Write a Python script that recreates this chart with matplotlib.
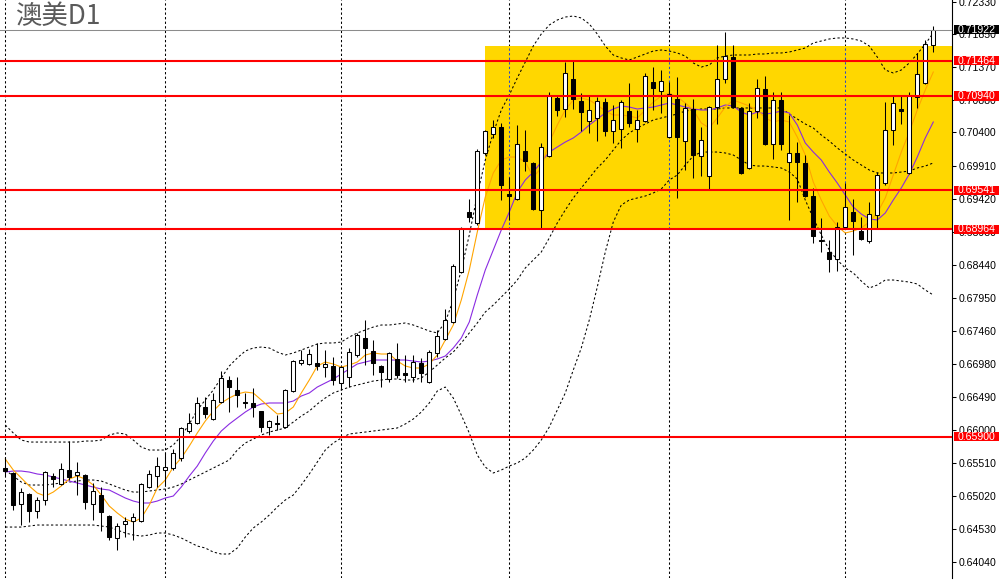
import matplotlib
matplotlib.use("Agg")
import matplotlib.pyplot as plt
from matplotlib.patches import Rectangle
from matplotlib.transforms import blended_transform_factory
import numpy as np

# daily candles (oldest first)
opens = [0.65434, 0.65360, 0.64901, 0.65049, 0.64797, 0.64960, 0.65315, 0.65197, 0.65404, 0.65330,
         0.65330, 0.64901, 0.65034, 0.64723, 0.64398, 0.64605, 0.64649, 0.64649, 0.65152, 0.65315,
         0.65404, 0.65434, 0.65582, 0.65981, 0.66100, 0.66336, 0.66159, 0.66410, 0.66736, 0.66588,
         0.66410, 0.66396, 0.66277, 0.66040, 0.66100, 0.66040, 0.66573, 0.66988, 0.66973, 0.66988,
         0.66928, 0.66943, 0.66692, 0.66780, 0.67106, 0.67358, 0.67165, 0.66943, 0.66751, 0.67047,
         0.66840, 0.66780, 0.66988, 0.66706, 0.67136, 0.67343, 0.67594, 0.68334, 0.69222, 0.69060,
         0.70096, 0.70377, 0.70480, 0.69489, 0.69415, 0.70125, 0.69948, 0.69252, 0.70051, 0.70910,
         0.70747, 0.71191, 0.70865, 0.70569, 0.70614, 0.70850, 0.70421, 0.70451, 0.70717, 0.70451,
         0.70569, 0.71146, 0.71013, 0.70332, 0.70895, 0.70273, 0.70747, 0.70051, 0.69755, 0.70776,
         0.71191, 0.71516, 0.70762, 0.69874, 0.70717, 0.71043, 0.70229, 0.70880, 0.69962, 0.70096,
         0.69948, 0.69459, 0.68808, 0.68630, 0.68527, 0.69000, 0.69222, 0.68941, 0.68793, 0.69178,
         0.69652, 0.70436, 0.70747, 0.69800, 0.70924, 0.71132, 0.71694]
highs = [0.65596, 0.65374, 0.65138, 0.65064, 0.65004, 0.65389, 0.65360, 0.65508, 0.65833, 0.65522,
         0.65345, 0.65212, 0.65152, 0.64738, 0.64620, 0.64708, 0.64768, 0.65212, 0.65404, 0.65596,
         0.65670, 0.65715, 0.66040, 0.66248, 0.66484, 0.66484, 0.66544, 0.66869, 0.66795, 0.66780,
         0.66544, 0.66618, 0.66277, 0.66144, 0.66218, 0.66603, 0.67032, 0.67180, 0.67195, 0.67284,
         0.67180, 0.67076, 0.66943, 0.67210, 0.67432, 0.67624, 0.67328, 0.66958, 0.67150, 0.67284,
         0.67106, 0.67106, 0.67062, 0.67180, 0.67476, 0.67787, 0.68453, 0.69000, 0.69415, 0.70155,
         0.70436, 0.70584, 0.70540, 0.69740, 0.70510, 0.70436, 0.69962, 0.70244, 0.70998, 0.70954,
         0.71442, 0.71457, 0.70984, 0.70939, 0.70924, 0.70910, 0.70806, 0.70880, 0.71132, 0.70732,
         0.71280, 0.71368, 0.71324, 0.71146, 0.71220, 0.70836, 0.70895, 0.70480, 0.70791, 0.71694,
         0.71886, 0.71694, 0.70776, 0.70836, 0.71191, 0.71235, 0.70998, 0.70998, 0.70658, 0.70258,
         0.70066, 0.69578, 0.69134, 0.68808, 0.69074, 0.69652, 0.69415, 0.69148, 0.69370, 0.69814,
         0.70850, 0.70954, 0.70954, 0.70998, 0.71576, 0.71768, 0.71975]
lows = [0.65315, 0.64812, 0.64590, 0.64634, 0.64694, 0.64886, 0.65152, 0.65182, 0.65256, 0.65034,
        0.64827, 0.64664, 0.64501, 0.64368, 0.64220, 0.64412, 0.64368, 0.64634, 0.65138, 0.65152,
        0.65182, 0.65404, 0.65537, 0.65952, 0.66085, 0.66174, 0.66144, 0.66396, 0.66262, 0.66336,
        0.66322, 0.66188, 0.65966, 0.65922, 0.65996, 0.66026, 0.66558, 0.66958, 0.66958, 0.66884,
        0.66780, 0.66662, 0.66603, 0.66632, 0.67076, 0.66958, 0.66810, 0.66632, 0.66706, 0.66766,
        0.66706, 0.66706, 0.66706, 0.66692, 0.67076, 0.67328, 0.67580, 0.68320, 0.69074, 0.69030,
        0.70066, 0.70318, 0.69400, 0.69104, 0.69400, 0.69829, 0.69252, 0.68970, 0.70036, 0.70643,
        0.70628, 0.70747, 0.70421, 0.70392, 0.70273, 0.70347, 0.70244, 0.70170, 0.70480, 0.70258,
        0.70554, 0.70732, 0.70688, 0.70318, 0.69430, 0.69844, 0.69726, 0.69755, 0.69563, 0.70525,
        0.71132, 0.70762, 0.69785, 0.69859, 0.70614, 0.70214, 0.70007, 0.70140, 0.69104, 0.69370,
        0.69444, 0.68764, 0.68630, 0.68334, 0.68349, 0.68986, 0.68586, 0.68808, 0.68764, 0.68986,
        0.69622, 0.70214, 0.70525, 0.69785, 0.70762, 0.71117, 0.71590]
closes = [0.65389, 0.64886, 0.65078, 0.64797, 0.64960, 0.65374, 0.65271, 0.65419, 0.65300, 0.65374,
          0.64930, 0.65093, 0.64782, 0.64412, 0.64575, 0.64649, 0.64708, 0.65197, 0.65345, 0.65463,
          0.65448, 0.65656, 0.66026, 0.66100, 0.66396, 0.66233, 0.66440, 0.66766, 0.66632, 0.66514,
          0.66396, 0.66336, 0.66040, 0.66129, 0.66085, 0.66588, 0.67017, 0.67032, 0.67121, 0.66943,
          0.66973, 0.66736, 0.66928, 0.67150, 0.67402, 0.67210, 0.66988, 0.66854, 0.67136, 0.66810,
          0.66810, 0.67002, 0.66840, 0.67150, 0.67387, 0.67624, 0.68423, 0.68986, 0.69148, 0.70125,
          0.70421, 0.70480, 0.69622, 0.69459, 0.70229, 0.69977, 0.69267, 0.70184, 0.70939, 0.70732,
          0.71280, 0.70895, 0.70702, 0.70732, 0.70865, 0.70421, 0.70584, 0.70850, 0.70540, 0.70584,
          0.71235, 0.71058, 0.71161, 0.70969, 0.70332, 0.70762, 0.70066, 0.70288, 0.70776, 0.71191,
          0.71531, 0.70776, 0.69800, 0.70717, 0.71058, 0.70229, 0.70880, 0.70229, 0.70096, 0.69962,
          0.69459, 0.68867, 0.68793, 0.68527, 0.69000, 0.69296, 0.69089, 0.68823, 0.69193, 0.69770,
          0.70436, 0.70836, 0.70717, 0.70939, 0.71265, 0.71709, 0.71922]

# moving averages (orange = fast, purple = slow)
ma_fast = [0.65567, 0.65404, 0.65286, 0.65167, 0.65064, 0.65019, 0.65078, 0.65167, 0.65271, 0.65315,
           0.65271, 0.65182, 0.65034, 0.64871, 0.64768, 0.64679, 0.64634, 0.64694, 0.64886, 0.65138,
           0.65256, 0.65448, 0.65582, 0.65759, 0.65952, 0.66129, 0.66277, 0.66396, 0.66470, 0.66529,
           0.66558, 0.66544, 0.66440, 0.66336, 0.66233, 0.66248, 0.66336, 0.66544, 0.66736, 0.66943,
           0.67002, 0.66973, 0.66928, 0.66958, 0.67002, 0.67106, 0.67136, 0.67121, 0.67121, 0.67017,
           0.66943, 0.66914, 0.66914, 0.66973, 0.67106, 0.67328, 0.67550, 0.67920, 0.68364, 0.68926,
           0.69444, 0.69800, 0.69992, 0.70036, 0.70036, 0.69962, 0.69740, 0.69874, 0.70258, 0.70510,
           0.70732, 0.70880, 0.70910, 0.70880, 0.70806, 0.70717, 0.70658, 0.70658, 0.70643, 0.70614,
           0.70732, 0.70850, 0.70939, 0.70984, 0.70924, 0.70836, 0.70732, 0.70540, 0.70466, 0.70614,
           0.70776, 0.70880, 0.70836, 0.70791, 0.70732, 0.70614, 0.70554, 0.70584, 0.70554, 0.70332,
           0.70066, 0.69666, 0.69400, 0.69163, 0.69015, 0.68912, 0.68941, 0.68986, 0.69074, 0.69208,
           0.69430, 0.69770, 0.70110, 0.70406, 0.70732, 0.71028, 0.71294]
ma_slow = [0.65374, 0.65389, 0.65389, 0.65374, 0.65345, 0.65330, 0.65300, 0.65271, 0.65241, 0.65212,
           0.65182, 0.65152, 0.65123, 0.65108, 0.65049, 0.64990, 0.64945, 0.64916, 0.64916, 0.64945,
           0.64990, 0.65019, 0.65152, 0.65315, 0.65463, 0.65656, 0.65833, 0.65981, 0.66085, 0.66174,
           0.66262, 0.66336, 0.66381, 0.66396, 0.66396, 0.66396, 0.66425, 0.66499, 0.66544, 0.66632,
           0.66692, 0.66751, 0.66825, 0.66899, 0.66973, 0.67002, 0.67032, 0.67032, 0.67032, 0.67032,
           0.67032, 0.67017, 0.67002, 0.67017, 0.67047, 0.67091, 0.67210, 0.67358, 0.67594, 0.67994,
           0.68364, 0.68660, 0.68956, 0.69222, 0.69518, 0.69696, 0.69814, 0.69962, 0.70110, 0.70184,
           0.70258, 0.70318, 0.70406, 0.70510, 0.70599, 0.70688, 0.70747, 0.70791, 0.70776, 0.70747,
           0.70762, 0.70776, 0.70806, 0.70836, 0.70806, 0.70776, 0.70747, 0.70732, 0.70732, 0.70762,
           0.70806, 0.70791, 0.70702, 0.70658, 0.70702, 0.70673, 0.70688, 0.70717, 0.70688, 0.70510,
           0.70244, 0.70110, 0.69992, 0.69814, 0.69652, 0.69474, 0.69296, 0.69193, 0.69119, 0.69104,
           0.69208, 0.69400, 0.69578, 0.69785, 0.70036, 0.70318, 0.70554]

# bollinger bands
bb_upper = [0.66070, 0.65952, 0.65848, 0.65818, 0.65818, 0.65818, 0.65818, 0.65818, 0.65818, 0.65818,
            0.65833, 0.65833, 0.65848, 0.65922, 0.65952, 0.65937, 0.65848, 0.65744, 0.65700, 0.65700,
            0.65700, 0.65774, 0.65907, 0.66085, 0.66292, 0.66440, 0.66588, 0.66766, 0.66943, 0.67062,
            0.67165, 0.67210, 0.67224, 0.67210, 0.67150, 0.67106, 0.67136, 0.67180, 0.67224, 0.67269,
            0.67284, 0.67284, 0.67298, 0.67372, 0.67432, 0.67476, 0.67520, 0.67550, 0.67550, 0.67565,
            0.67580, 0.67550, 0.67506, 0.67461, 0.67432, 0.67594, 0.67920, 0.68364, 0.68882, 0.69474,
            0.69992, 0.70392, 0.70732, 0.70954, 0.71206, 0.71442, 0.71679, 0.71857, 0.71990, 0.72064,
            0.72108, 0.72123, 0.72094, 0.72005, 0.71857, 0.71679, 0.71546, 0.71502, 0.71472, 0.71516,
            0.71561, 0.71605, 0.71620, 0.71605, 0.71576, 0.71531, 0.71428, 0.71368, 0.71398, 0.71502,
            0.71531, 0.71546, 0.71546, 0.71546, 0.71561, 0.71561, 0.71576, 0.71576, 0.71590, 0.71620,
            0.71650, 0.71724, 0.71753, 0.71783, 0.71798, 0.71798, 0.71783, 0.71753, 0.71679, 0.71516,
            0.71324, 0.71280, 0.71324, 0.71428, 0.71561, 0.71709, 0.71872]
bb_mid = [0.65404, 0.65315, 0.65226, 0.65182, 0.65182, 0.65182, 0.65197, 0.65212, 0.65226, 0.65241,
          0.65256, 0.65256, 0.65241, 0.65197, 0.65152, 0.65108, 0.65078, 0.65078, 0.65093, 0.65108,
          0.65123, 0.65152, 0.65197, 0.65256, 0.65315, 0.65374, 0.65434, 0.65493, 0.65552, 0.65700,
          0.65804, 0.65863, 0.65922, 0.65966, 0.65996, 0.66026, 0.66114, 0.66203, 0.66277, 0.66381,
          0.66470, 0.66544, 0.66588, 0.66632, 0.66662, 0.66692, 0.66721, 0.66736, 0.66751, 0.66751,
          0.66736, 0.66736, 0.66766, 0.66854, 0.66958, 0.67062, 0.67150, 0.67284, 0.67432, 0.67580,
          0.67742, 0.67846, 0.67964, 0.68083, 0.68216, 0.68394, 0.68512, 0.68630, 0.68838, 0.69060,
          0.69252, 0.69430, 0.69578, 0.69726, 0.69874, 0.69992, 0.70140, 0.70288, 0.70392, 0.70466,
          0.70525, 0.70584, 0.70614, 0.70643, 0.70673, 0.70717, 0.70732, 0.70747, 0.70747, 0.70747,
          0.70762, 0.70762, 0.70762, 0.70762, 0.70762, 0.70762, 0.70762, 0.70762, 0.70673, 0.70599,
          0.70525, 0.70466, 0.70362, 0.70273, 0.70170, 0.70081, 0.69992, 0.69918, 0.69844, 0.69800,
          0.69800, 0.69800, 0.69814, 0.69829, 0.69874, 0.69903, 0.69948]
bb_lower = [0.64560, 0.64560, 0.64560, 0.64575, 0.64590, 0.64590, 0.64590, 0.64590, 0.64590, 0.64590,
            0.64590, 0.64590, 0.64575, 0.64560, 0.64516, 0.64472, 0.64442, 0.64427, 0.64442, 0.64472,
            0.64472, 0.64442, 0.64398, 0.64338, 0.64279, 0.64250, 0.64190, 0.64161, 0.64161, 0.64250,
            0.64412, 0.64546, 0.64634, 0.64738, 0.64856, 0.64960, 0.65034, 0.65182, 0.65345, 0.65522,
            0.65700, 0.65804, 0.65878, 0.65937, 0.65952, 0.65966, 0.65981, 0.65996, 0.66011, 0.66026,
            0.66085, 0.66159, 0.66262, 0.66396, 0.66573, 0.66632, 0.66470, 0.66218, 0.65952, 0.65626,
            0.65448, 0.65360, 0.65404, 0.65463, 0.65508, 0.65582, 0.65700, 0.65848, 0.66040, 0.66292,
            0.66544, 0.66884, 0.67210, 0.67624, 0.68112, 0.68630, 0.69074, 0.69326, 0.69400, 0.69430,
            0.69459, 0.69504, 0.69563, 0.69696, 0.69770, 0.69918, 0.70051, 0.70110, 0.70110, 0.70110,
            0.70096, 0.70066, 0.69992, 0.69918, 0.69903, 0.69903, 0.69888, 0.69874, 0.69814, 0.69711,
            0.69400, 0.69134, 0.68882, 0.68660, 0.68512, 0.68394, 0.68320, 0.68201, 0.68098, 0.68142,
            0.68216, 0.68216, 0.68201, 0.68186, 0.68157, 0.68068, 0.67994]

levels = [0.71464, 0.70940, 0.69541, 0.68964, 0.65900]
last_price = 0.71922
zone_low, zone_high = 0.68964, 0.71680
zone_start = 60
grid_bars = [0, 20, 42, 63, 83, 105]
price_ticks = [0.72330, 0.71850, 0.71370, 0.70880, 0.70400, 0.69910, 0.69420, 0.68930, 0.68440,
               0.67950, 0.67460, 0.66980, 0.66490, 0.66000, 0.65510, 0.65020, 0.64530, 0.64040]
title = "澳美D1"

o = np.array(opens); h = np.array(highs); l = np.array(lows); c = np.array(closes)
x = np.arange(len(o))

fig = plt.figure(figsize=(9.99, 5.8), dpi=100)
ax = fig.add_axes([0, 2 / 580, 952 / 999, 578 / 580])
ax.set_xlim(-0.66, 118.34)
ax.set_ylim(0.63806, 0.72360)

# month separators
dash = (0, (2.2, 2.2))
for b in grid_bars:
    ax.axvline(b, color="black", lw=0.75, ls=dash, zorder=0.5)

# highlighted range box
ax.add_patch(Rectangle((zone_start, zone_low), 200, zone_high - zone_low,
                       facecolor="#FFD700", edgecolor="none", zorder=1))
for b in grid_bars:
    if b >= zone_start:
        ax.plot([b, b], [zone_low, zone_high], color="#2a48c8", lw=0.75, ls=dash, zorder=1.2)

# bands and averages
for band in (bb_upper, bb_mid, bb_lower):
    ax.plot(x, band, color="black", lw=0.75, ls=dash, zorder=2)
ax.plot(x, ma_slow, color="#8A2BE2", lw=0.8, zorder=2.2)
ax.plot(x, ma_fast, color="#FFA500", lw=0.8, zorder=2.3)

# candles
bull = c >= o
ax.vlines(x, l, h, color="black", lw=0.75, zorder=3)
ax.bar(x, np.abs(c - o), bottom=np.minimum(o, c), width=0.55,
       color=np.where(bull, "white", "black"), edgecolor="black", linewidth=0.75, zorder=4)

# horizontal levels
for p in levels:
    ax.axhline(p, color="#ff0000", lw=1.5, zorder=5)
ax.axhline(last_price, color="#8c8c8c", lw=0.75, zorder=5)

# price axis on the right
for s in ("top", "left", "bottom"):
    ax.spines[s].set_visible(False)
ax.spines["right"].set_linewidth(0.8)
ax.set_xticks([])
ax.yaxis.tick_right()
ax.set_yticks(price_ticks)
ax.set_yticklabels([f"{t:.5f}" for t in price_ticks], family="Liberation Sans")
ax.tick_params(axis="y", direction="out", length=3, width=0.75, pad=2, labelsize=7.6)

tr = blended_transform_factory(ax.transAxes, ax.transData)
half = 0.00068
for p, bg in [(q, "#ff0000") for q in levels] + [(last_price, "black")]:
    ax.add_patch(Rectangle((1.002, p - half), 0.048, 2 * half, transform=tr,
                           facecolor=bg, edgecolor="none", clip_on=False, zorder=10))
    ax.text(1.0062, p, f"{p:.5f}", transform=tr, color="white", fontsize=7.6,
            family="Liberation Sans", va="center", ha="left", clip_on=False, zorder=11)

fig.text(15 / 999, 1 - 3 / 580, title, fontsize=19, color="#5a5a5a", va="top", ha="left",
         family=["Noto Sans CJK SC", "DejaVu Sans"])

fig.savefig("out.png", dpi=100)
